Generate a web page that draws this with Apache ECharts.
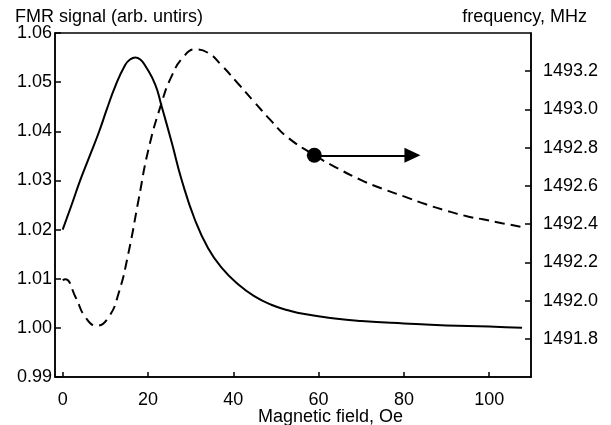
<!DOCTYPE html>
<html>
<head>
<meta charset="utf-8">
<script src="https://cdn.jsdelivr.net/npm/echarts@6/dist/echarts.min.js"></script>
<style>html,body{margin:0;padding:0;background:#fff}#c{width:611px;height:425px}</style>
</head>
<body>
<div id="c"></div>
<script>
// FMR signal (left axis), [field Oe, signal]
const fmrSignal = [[0,1.020],[2,1.0248],[4.1,1.030],[6.2,1.0347],[8.4,1.0396],[10.4,1.0446],[12.3,1.0491],[14.65,1.0535],[15.8,1.0546],[17.0,1.0550],[18.2,1.0546],[19.4,1.0533],[21.7,1.0495],[23.1,1.0454],[25.6,1.0376],[27.9,1.0301],[31.0,1.0220],[34.1,1.0162],[37.3,1.0122],[41.2,1.0088],[45.0,1.0064],[48.9,1.0047],[52.8,1.0036],[56.7,1.0028],[63.8,1.0019],[70,1.0014],[80,1.0009],[90,1.0005],[100,1.0003],[107.7,1.0000]];
// frequency (right axis), [field Oe, MHz]
const frequency = [[0,1492.107],[0.6,1492.112],[3.0,1492.019],[5.3,1491.914],[8.0,1491.868],[10.8,1491.914],[13.1,1492.037],[15.4,1492.247],[17.8,1492.528],[20.1,1492.79],[23.1,1493.028],[25.6,1493.177],[28.3,1493.274],[31.0,1493.314],[34.1,1493.296],[37.3,1493.23],[41.2,1493.133],[45.0,1493.037],[48.9,1492.94],[52.8,1492.853],[59.1,1492.76],[63.8,1492.70],[70,1492.63],[75,1492.585],[80,1492.545],[85,1492.505],[90,1492.47],[95,1492.44],[98.5,1492.425],[103,1492.405],[107.5,1492.386]];
// marker dot and arrow pointing to the right axis
const markerPoint = [59, 1492.76];
const arrowEnd = [82, 1492.76];
const xTicks = [0,20,40,60,80,100];
const rightTicks = [1491.8,1492.0,1492.2,1492.4,1492.6,1492.8,1493.0,1493.2];

const font = 'Liberation Sans, Arial, sans-serif';
const chart = echarts.init(document.getElementById('c'));
chart.setOption({
  animation: false,
  grid: {left: 55, right: 80, top: 33, bottom: 48, show: true, borderColor: '#000', borderWidth: 1.5},
  xAxis: {
    type: 'value', min: -1.8, max: 109.8,
    axisLine: {show: true, onZero: false, lineStyle: {color: '#000', width: 1.5}},
    axisTick: {show: true, inside: true, length: 5, lineStyle: {color: '#000', width: 1.5}, customValues: xTicks},
    axisLabel: {color: '#000', fontSize: 18, fontFamily: font, margin: 14, customValues: xTicks},
    splitLine: {show: false}
  },
  yAxis: [{
    type: 'value', min: 0.99, max: 1.06, interval: 0.01, position: 'left',
    axisLine: {show: true, onZero: false, lineStyle: {color: '#000', width: 1.5}},
    axisTick: {show: true, inside: true, length: 6, lineStyle: {color: '#000', width: 1.5}},
    axisLabel: {color: '#000', fontSize: 18, fontFamily: font, margin: 3, formatter: v => v.toFixed(2)},
    splitLine: {show: false}
  }, {
    type: 'value', min: 1491.6, max: 1493.4, position: 'right',
    axisLine: {show: true, onZero: false, lineStyle: {color: '#000', width: 1.5}},
    axisTick: {show: true, inside: true, length: 6, lineStyle: {color: '#000', width: 1.5}, customValues: rightTicks},
    axisLabel: {color: '#000', fontSize: 18, fontFamily: font, margin: 12, customValues: rightTicks, formatter: v => v.toFixed(1)},
    splitLine: {show: false}
  }],
  graphic: [
    {type: 'text', left: 15, top: 8, style: {text: 'FMR signal (arb. untirs)', fontSize: 18, fontFamily: font, fill: '#000'}},
    {type: 'text', right: 24, top: 8, style: {text: 'frequency, MHz', fontSize: 18, fontFamily: font, fill: '#000'}},
    {type: 'text', left: 258, top: 408, style: {text: 'Magnetic field, Oe', fontSize: 18, fontFamily: font, fill: '#000'}}
  ],
  series: [{
    type: 'line', name: 'FMR', yAxisIndex: 0, data: fmrSignal, smooth: 0.5, showSymbol: false,
    lineStyle: {color: '#000', width: 2}
  }, {
    type: 'line', name: 'frequency', yAxisIndex: 1, data: frequency, smooth: 0.5, showSymbol: false,
    lineStyle: {color: '#000', width: 2, type: [10, 6]}
  }, {
    type: 'scatter', yAxisIndex: 1, data: [markerPoint], symbol: 'circle', symbolSize: 15,
    itemStyle: {color: '#000', opacity: 1}, z: 5,
    markLine: {
      silent: true, animation: false, label: {show: false},
      lineStyle: {color: '#000', width: 2, type: 'solid'},
      data: [[{coord: markerPoint, symbol: 'none'}, {coord: arrowEnd, symbol: 'triangle', symbolSize: [15, 16]}]]
    }
  }]
});
</script>
</body>
</html>
